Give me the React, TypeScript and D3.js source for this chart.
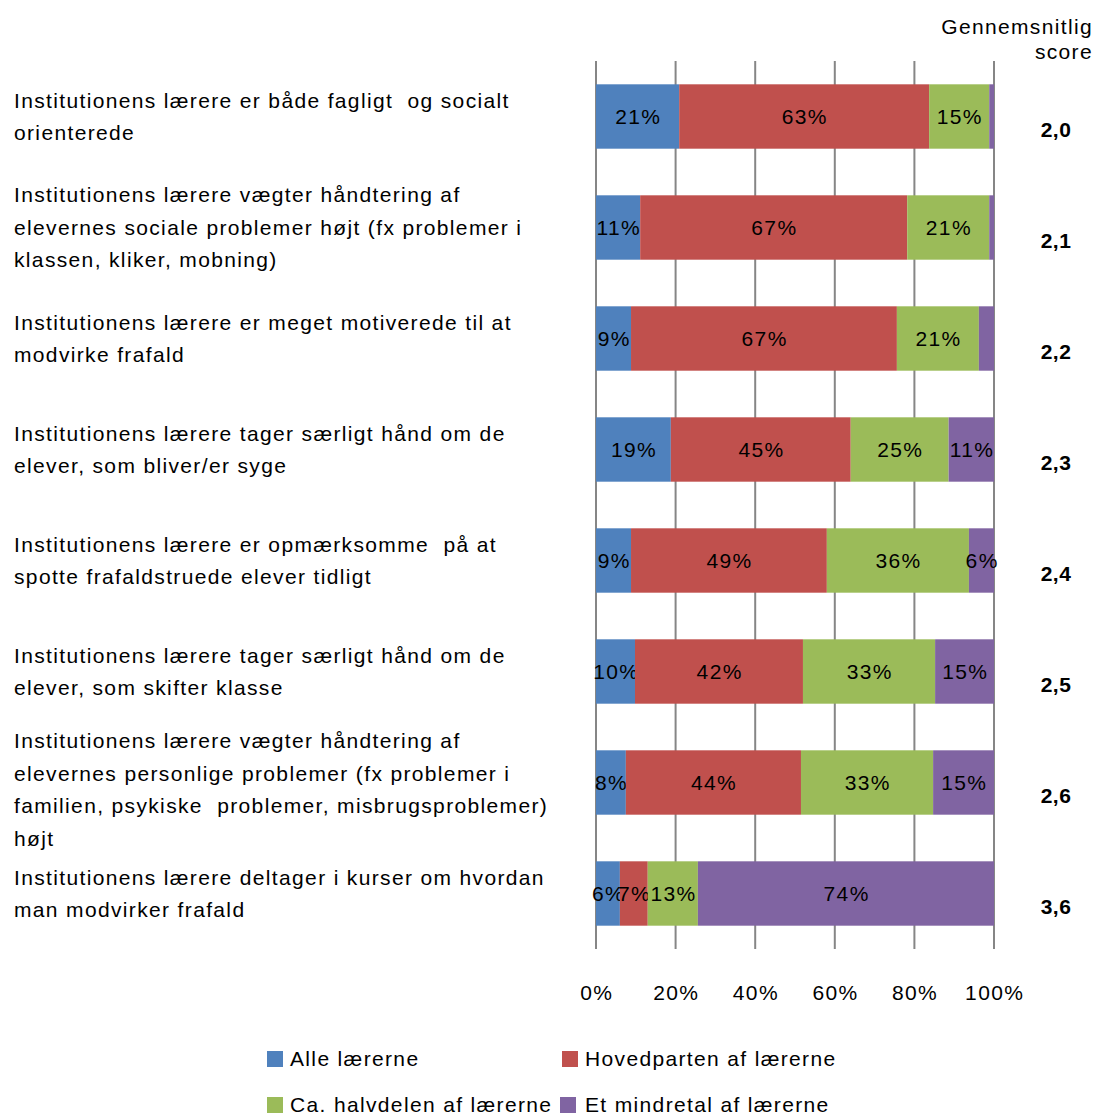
import React from "react";
import * as d3 from "d3";

const categories: string[][] = [
  ["Institutionens lærere er både fagligt  og socialt", "orienterede"],
  ["Institutionens lærere vægter håndtering af", "elevernes sociale problemer højt (fx problemer i", "klassen, kliker, mobning)"],
  ["Institutionens lærere er meget motiverede til at", "modvirke frafald"],
  ["Institutionens lærere tager særligt hånd om de", "elever, som bliver/er syge"],
  ["Institutionens lærere er opmærksomme  på at", "spotte frafaldstruede elever tidligt"],
  ["Institutionens lærere tager særligt hånd om de", "elever, som skifter klasse"],
  ["Institutionens lærere vægter håndtering af", "elevernes personlige problemer (fx problemer i", "familien, psykiske  problemer, misbrugsproblemer)", "højt"],
  ["Institutionens lærere deltager i kurser om hvordan", "man modvirker frafald"],
];

const seriesNames = ["Alle lærerne", "Hovedparten af lærerne", "Ca. halvdelen af lærerne", "Et mindretal af lærerne"];
const seriesColors = ["#4F81BD", "#C0504D", "#9BBB59", "#8064A2"];

const alle = [20.9, 11.1, 8.8, 18.8, 8.8, 9.8, 7.5, 6.0];
const hovedparten = [62.8, 67.1, 66.8, 45.2, 49.2, 42.2, 44.0, 7.0];
const halvdelen = [15.1, 20.6, 20.6, 24.6, 35.7, 33.2, 33.2, 12.6];
const mindretal = [1.2, 1.2, 3.8, 11.4, 6.3, 14.8, 15.3, 74.4];

const scores = ["2,0", "2,1", "2,2", "2,3", "2,4", "2,5", "2,6", "3,6"];
const xTicks = [0, 20, 40, 60, 80, 100];

const FONT = "'Liberation Sans', Arial, sans-serif";
const LS = 1.35;

export default function App() {
  const W = 1096, H = 1116;
  const x = d3.scaleLinear().domain([0, 100]).range([596, 994]);
  const y = d3.scaleBand<number>().domain(d3.range(categories.length)).range([61, 949]).paddingInner(0.42).paddingOuter(0.21);
  const seriesData = [alle, hovedparten, halvdelen, mindretal];
  const rows = categories.map((_, i) => ({ i, a: alle[i], b: hovedparten[i], c: halvdelen[i], d: mindretal[i] }));
  const stack = d3.stack<any>().keys(["a", "b", "c", "d"])(rows);
  const lineH = 32.5;
  const fs = 21;

  return (
    <div style={{ position: "absolute", left: 0, top: 0 }}>
      <svg width={W} height={H} style={{ display: "block", background: "#fff" }} fontFamily={FONT} letterSpacing={LS}>
        {/* gridlines */}
        {xTicks.map((t) => (
          <line key={t} x1={x(t)} x2={x(t)} y1={61} y2={949} stroke="#868686" strokeWidth={2} />
        ))}
        {/* bars */}
        {stack.map((layer, si) => (
          <g key={si}>
            {layer.map((seg, i) => {
              const x0 = x(seg[0]), x1 = x(seg[1]);
              const yy = y(i)!;
              const v = seriesData[si][i];
              return (
                <g key={i}>
                  <rect x={x0} y={yy} width={x1 - x0} height={y.bandwidth()} fill={seriesColors[si]} />
                  {v >= 5 && (
                    <text x={(x0 + x1) / 2 + LS / 2} y={yy + y.bandwidth() / 2} dy="0.35em" textAnchor="middle" fontSize={fs} fill="#000">
                      {Math.round(v)}%
                    </text>
                  )}
                </g>
              );
            })}
          </g>
        ))}
        {/* category labels */}
        {categories.map((lines, i) => {
          const cy = y(i)! + y.bandwidth() / 2 + (i === 6 ? 7 : 0);
          const start = cy - ((lines.length - 1) * lineH) / 2;
          return (
            <text key={i} x={14} fontSize={fs} fill="#000">
              {lines.map((l, k) => (
                <tspan key={k} x={14} y={start + k * lineH} dy="0.35em" style={{ whiteSpace: "pre" }}>{l}</tspan>
              ))}
            </text>
          );
        })}
        {/* score header */}
        <text x={1093} y={27} dy="0.35em" textAnchor="end" fontSize={fs} fill="#000">Gennemsnitlig</text>
        <text x={1093} y={52} dy="0.35em" textAnchor="end" fontSize={fs} fill="#000">score</text>
        {scores.map((s, i) => (
          <text key={i} x={1056} y={y(i)! + y.bandwidth() / 2 + 13} dy="0.35em" textAnchor="middle" fontSize={fs} fontWeight="bold" fill="#000" letterSpacing={0.5}>{s}</text>
        ))}
        {/* x tick labels */}
        {xTicks.map((t) => (
          <text key={t} x={x(t) + LS / 2} y={993} dy="0.35em" textAnchor="middle" fontSize={fs} fill="#000">{t}%</text>
        ))}
        {/* legend */}
        {seriesNames.map((n, k) => {
          const lx = [267, 562, 267, 560][k];
          const tx = [290, 585, 290, 585][k];
          const ly = [1059, 1059, 1105, 1105][k];
          return (
            <g key={n}>
              <rect x={lx} y={ly - 8} width={16} height={16} fill={seriesColors[k]} />
              <text x={tx} y={ly} dy="0.35em" fontSize={fs} fill="#000">{n}</text>
            </g>
          );
        })}
      </svg>
    </div>
  );
}
